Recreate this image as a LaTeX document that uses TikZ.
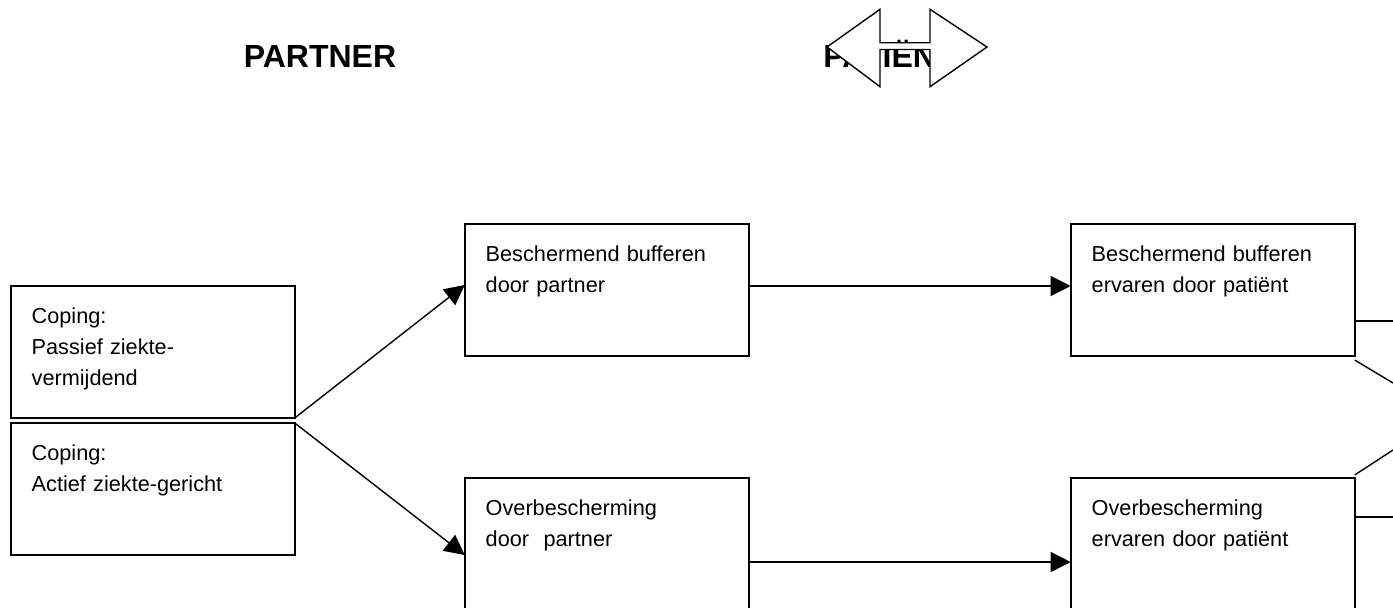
\documentclass[tikz,border=0pt]{standalone}
\usepackage{fontspec}
\setmainfont{Liberation Sans}
\usetikzlibrary{positioning,arrows.meta}

\begin{document}
\begin{tikzpicture}[
box/.style={draw,rectangle,line width=.9pt,outer sep=0pt,minimum width=142pt,minimum height=66pt,
    text width=121pt,align=left,inner xsep=10.5pt,inner ysep=10.5pt,text height=8pt,text depth=37pt,
    font=\fontsize{10.85pt}{15.5pt}\selectfont},
conn/.style={line width=.7pt},
arr/.style={conn,-{Triangle[length=10pt,width=10pt]}},
head/.style={font=\fontsize{16pt}{18pt}\selectfont\bfseries,inner sep=0pt}]
\useasboundingbox (0,0) rectangle (696.5pt,-303.5pt);
\node (partner) [head,anchor=base] at (160pt,-33.5pt) {PARTNER};
\node (patient) [head,anchor=base west] at (411.5pt,-33.5pt) {PATIËNT};
\draw[line width=.7pt,fill=white] (413.5pt,-23.5pt) -- (440pt,-4.65pt) -- (440pt,-21.35pt)
    -- (465pt,-21.35pt) -- (465pt,-4.65pt) -- (493.5pt,-23.5pt) -- (465pt,-43.35pt)
    -- (465pt,-24.75pt) -- (440pt,-24.75pt) -- (440pt,-43.35pt) -- cycle;
\node (pasv) [box,anchor=north west] at (5.35pt,-143pt) {Coping:\\ Passief ziekte-\\ vermijdend};
\node (actf) [box,below=2.5pt of pasv] {Coping:\\ Actief ziekte-gericht};
\node (bufp) [box,right=85pt of pasv,yshift=31pt] {Beschermend bufferen\\ door partner};
\node (ovrp) [box,below=61pt of bufp] {Overbescherming\\ door~ partner};
\node (bufe) [box,right=161pt of bufp] {Beschermend bufferen\\ ervaren door patiënt};
\node (ovre) [box,right=161pt of ovrp] {Overbescherming\\ ervaren door patiënt};
\coordinate (ex1) at (696.5pt,-160.5pt);
\coordinate (ex2) at (696.5pt,-191.5pt);
\coordinate (ex3) at (696.5pt,-225pt);
\coordinate (ex4) at (696.5pt,-258.5pt);
\draw[arr] (pasv.south east) -- ([yshift=2.5pt]bufp.west);
\draw[arr] (actf.north east) -- ([yshift=-5.5pt]ovrp.west);
\draw[arr] ([yshift=2pt]bufp.east) -- ([yshift=2pt]bufe.west);
\draw[arr] ([yshift=-9pt]ovrp.east) -- ([yshift=-9pt]ovre.west);
\draw[conn] ([yshift=-15.5pt]bufe.east) -- (ex1);
\draw[conn] ([yshift=-2pt]bufe.south east) -- (ex2);
\draw[conn] ([yshift=1.5pt]ovre.north east) -- (ex3);
\draw[conn] ([yshift=13.5pt]ovre.east) -- (ex4);
\end{tikzpicture}
\end{document}
